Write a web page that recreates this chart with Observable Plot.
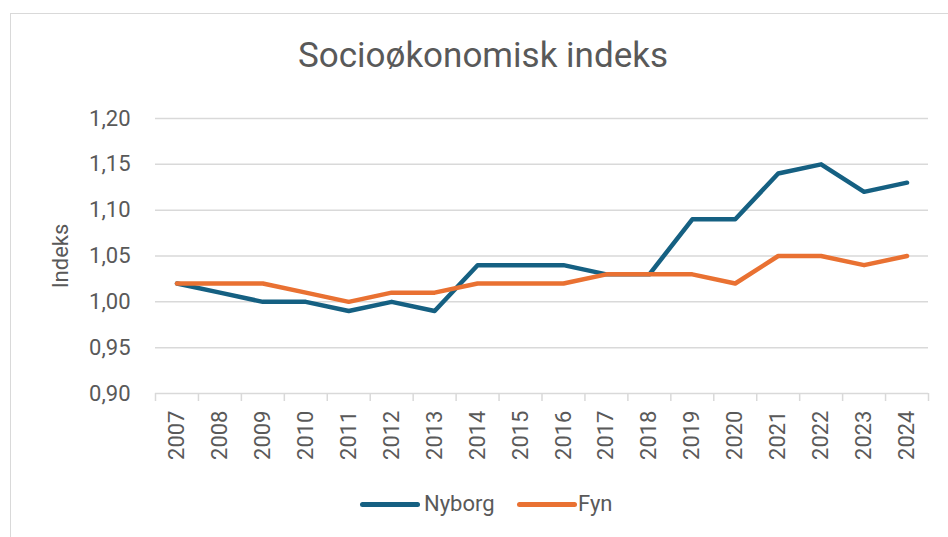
<!DOCTYPE html>
<html>
<head>
<meta charset="utf-8">
<script src="https://cdn.jsdelivr.net/npm/d3@7"></script>
<script src="https://cdn.jsdelivr.net/npm/@observablehq/plot@0.6"></script>
<style>
  html, body { margin: 0; padding: 0; background: #fff; overflow: hidden; }
  #wrap { position: relative; width: 948px; height: 537px; overflow: hidden; font-family: Roboto, "Open Sans", sans-serif; color: #595959; }
  #frame { position: absolute; left: 10px; top: 13px; width: 1200px; height: 800px; border-left: 1.5px solid #d9d9d9; border-top: 1.5px solid #d9d9d9; }
  #chart { position: absolute; left: 0; top: 0; }
  #title { position: absolute; left: 0; top: 38px; width: 966px; text-align: center; font-size: 35px; line-height: 35px; white-space: nowrap; }
  .sw { position: absolute; height: 5px; border-radius: 3px; top: 501.5px; }
  .lt { position: absolute; top: 493px; font-size: 22px; line-height: 22px; white-space: nowrap; }
</style>
</head>
<body>
<div id="wrap">
  <div id="frame"></div>
  <div id="chart"></div>
  <div id="title">Socioøkonomisk indeks</div>
  <div id="legend"></div>
</div>
<script>
const years = [2007, 2008, 2009, 2010, 2011, 2012, 2013, 2014, 2015, 2016, 2017, 2018, 2019, 2020, 2021, 2022, 2023, 2024];
const nyborg = [1.02, 1.01, 1.00, 1.00, 0.99, 1.00, 0.99, 1.04, 1.04, 1.04, 1.03, 1.03, 1.09, 1.09, 1.14, 1.15, 1.12, 1.13];
const fyn    = [1.02, 1.02, 1.02, 1.01, 1.00, 1.01, 1.01, 1.02, 1.02, 1.02, 1.03, 1.03, 1.03, 1.02, 1.05, 1.05, 1.04, 1.05];
const seriesNames = ["Nyborg", "Fyn"];
const seriesColors = ["#156082", "#E97132"];
const yTicks = [0.90, 0.95, 1.00, 1.05, 1.10, 1.15, 1.20];
const yLabel = "Indeks";

const data = [];
years.forEach((yr, i) => {
  data.push({ year: yr, value: nyborg[i], series: seriesNames[0] });
});
years.forEach((yr, i) => {
  data.push({ year: yr, value: fyn[i], series: seriesNames[1] });
});
const boundaries = years.map(y => y - 0.5).concat([years[years.length - 1] + 0.5]);

const chart = Plot.plot({
  width: 948,
  height: 537,
  marginLeft: 155,
  marginRight: 20,
  marginTop: 118,
  marginBottom: 144,
  style: { fontFamily: "Roboto, 'Open Sans', sans-serif", color: "#595959", background: "transparent", overflow: "visible" },
  x: { domain: [years[0] - 0.5, years[years.length - 1] + 0.5] },
  y: { domain: [yTicks[0], yTicks[yTicks.length - 1]] },
  color: { domain: seriesNames, range: seriesColors },
  marks: [
    Plot.ruleY(yTicks, { stroke: "#d9d9d9", strokeWidth: 1.5 }),
    Plot.axisX(boundaries, { tickSize: 8, stroke: "#d9d9d9", strokeWidth: 1.5, tickFormat: () => "", label: null }),
    Plot.axisX(years, { tickSize: 0, tickRotate: -90, tickPadding: 17, tickFormat: d => String(d), fontSize: 22, fill: "#595959", label: null }),
    Plot.axisY(yTicks, {
      tickSize: 0, tickPadding: 25,
      tickFormat: d => d.toFixed(2).replace(".", ","),
      fontSize: 22, fill: "#595959",
      label: yLabel, labelAnchor: "center", labelArrow: "none", labelOffset: 103
    }),
    Plot.line(data, { x: "year", y: "value", z: "series", stroke: "series", strokeWidth: 4.5, strokeLinejoin: "round", strokeLinecap: "round" })
  ]
});
document.getElementById("chart").appendChild(chart);

// legend
const legend = document.getElementById("legend");
const swLeft = [360, 517];
const txtLeft = [424, 578];
seriesNames.forEach((name, i) => {
  const sw = document.createElement("div");
  sw.className = "sw";
  sw.style.left = swLeft[i] + "px";
  sw.style.width = "60px";
  sw.style.background = seriesColors[i];
  legend.appendChild(sw);
  const t = document.createElement("div");
  t.className = "lt";
  t.style.left = txtLeft[i] + "px";
  t.textContent = name;
  legend.appendChild(t);
});
</script>
</body>
</html>
